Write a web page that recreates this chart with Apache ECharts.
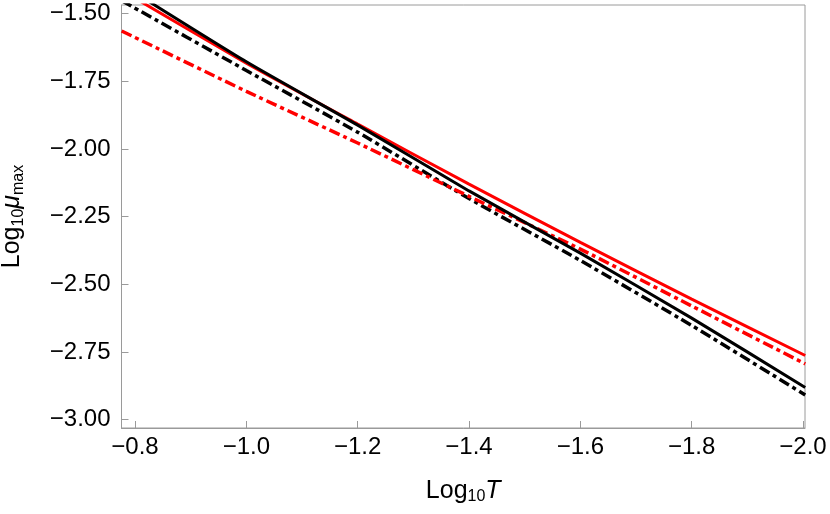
<!DOCTYPE html>
<html>
<head>
<meta charset="utf-8">
<script src="https://cdn.jsdelivr.net/npm/echarts@6/dist/echarts.min.js"></script>
<style>
  html, body { margin: 0; padding: 0; background: #fff; }
  #chart { width: 830px; height: 514px; }
</style>
</head>
<body>
<div id="chart"></div>
<script>
// log10 T sample points (axis runs right-to-left)
const logT = [-0.776, -1.0, -1.2, -1.4, -1.6, -1.8, -2.004];

// log10 mu_max
const blackSolid   = [-1.392, -1.678, -1.912, -2.155, -2.385, -2.625, -2.881];
const redSolid     = [-1.414, -1.683, -1.908, -2.130, -2.345, -2.555, -2.763];
const blackDotDash = [-1.452, -1.710, -1.938, -2.183, -2.412, -2.652, -2.909];
const redDotDash   = [-1.564, -1.787, -1.978, -2.175, -2.370, -2.580, -2.794];

const xTicks = [-0.8, -1.0, -1.2, -1.4, -1.6, -1.8, -2.0];
const yTicks = [-1.5, -1.75, -2.0, -2.25, -2.5, -2.75, -3.0];

const FONT = "'Liberation Sans', Arial, sans-serif";
const frameColor = "#9a9a9a";

function pairs(ys) {
    return logT.map((x, i) => [x, ys[i]]);
}

function lineSeries(name, ys, color, dashed) {
    return {
        name: name,
        type: "line",
        data: pairs(ys),
        symbol: "none",
        smooth: 0.2,
        clip: true,
        lineStyle: {
            color: color,
            width: dashed ? 3.5 : 3,
            type: dashed ? [11, 4, 4, 4] : "solid",
            cap: "butt",
        },
        z: dashed ? 3 : 4,
    };
}

const labelRich = {
    n: { fontFamily: FONT, fontSize: 25, color: "#000" },
    s: { fontFamily: FONT, fontSize: 16, color: "#000", padding: [12, 0, 0, 0] },
    i: { fontFamily: FONT, fontSize: 25, color: "#000", fontStyle: "italic" },
};

const chart = echarts.init(document.getElementById("chart"));
chart.setOption({
    animation: false,
    grid: {
        left: 121.5,
        right: 25,
        top: 5,
        bottom: 86,
        outerBoundsMode: "none",
        containLabel: false,
        show: true,
        borderColor: frameColor,
        borderWidth: 1,
        backgroundColor: "transparent",
    },
    xAxis: {
        type: "value",
        inverse: true,
        min: -2.0036,
        max: -0.7757,
        name: "{n|Log}{s|10}{i|T}",
        nameLocation: "middle",
        nameGap: 49,
        nameTextStyle: { rich: labelRich },
        axisLine: { show: true, lineStyle: { color: frameColor, width: 1 } },
        axisTick: {
            show: true,
            inside: true,
            length: 7,
            customValues: xTicks,
            lineStyle: { color: frameColor },
        },
        axisLabel: {
            customValues: xTicks,
            margin: 7,
            fontFamily: FONT,
            fontSize: 24,
            color: "#000",
            formatter: (v) => "\u2212" + Math.abs(v).toFixed(1),
        },
        splitLine: { show: false },
    },
    yAxis: {
        type: "value",
        min: -3.031,
        max: -1.468,
        name: "{n|Log}{s|10}{i|\u03bc}{s|max}",
        nameLocation: "middle",
        nameRotate: 90,
        nameGap: 95,
        nameTextStyle: { rich: labelRich },
        axisLine: { show: true, lineStyle: { color: frameColor, width: 1 } },
        axisTick: {
            show: true,
            inside: true,
            length: 7,
            customValues: yTicks,
            lineStyle: { color: frameColor },
        },
        axisLabel: {
            customValues: yTicks,
            margin: 11,
            fontFamily: FONT,
            fontSize: 24,
            color: "#000",
            formatter: (v) => "\u2212" + Math.abs(v).toFixed(2),
        },
        splitLine: { show: false },
    },
    series: [
        lineSeries("black dot-dashed", blackDotDash, "#000000", true),
        lineSeries("red dot-dashed", redDotDash, "#ff0000", true),
        lineSeries("red solid", redSolid, "#ff0000", false),
        lineSeries("black solid", blackSolid, "#000000", false),
    ],
});
</script>
</body>
</html>
